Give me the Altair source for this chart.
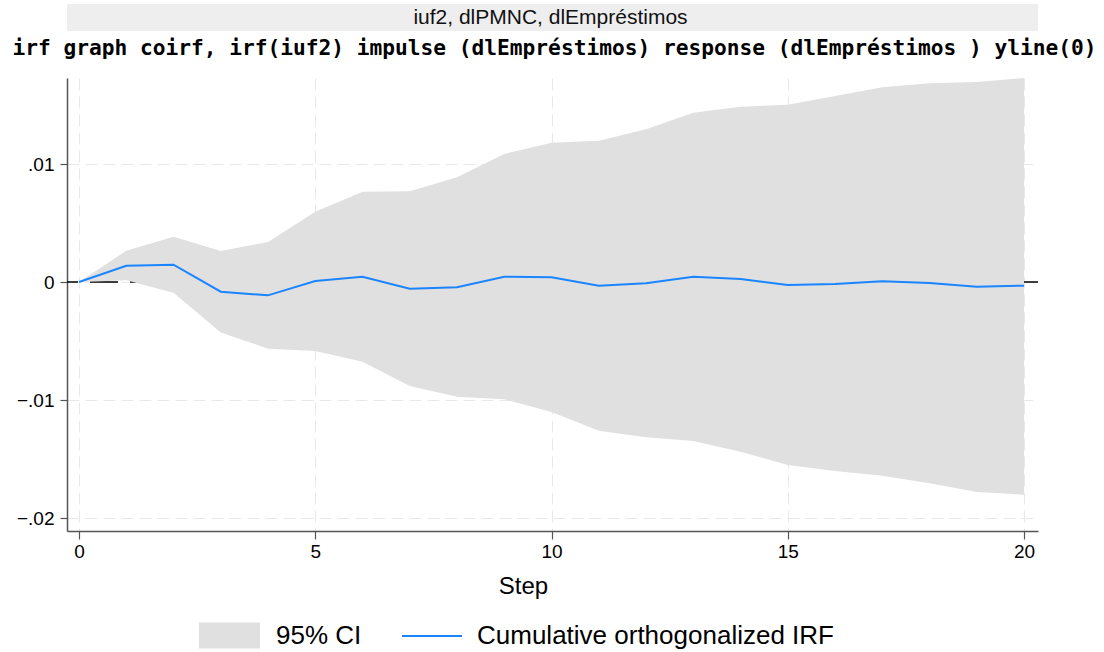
import altair as alt
import pandas as pd

# ---- data ----
steps = list(range(21))
irf = [0.0, 0.00138, 0.00147, -0.00082, -0.00113, 0.00008, 0.00045, -0.00057,
       -0.00045, 0.00045, 0.00040, -0.00031, -0.00011, 0.00045, 0.00025,
       -0.00025, -0.00017, 0.00006, -0.00008, -0.00040, -0.00031]
upper = [0.0, 0.00265, 0.00384, 0.00263, 0.00339, 0.00596, 0.00765, 0.00770,
         0.00887, 0.01085, 0.01180, 0.01197, 0.01294, 0.01435, 0.01486,
         0.01503, 0.01576, 0.01650, 0.01684, 0.01695, 0.01729]
lower = [0.0, 0.00015, -0.00090, -0.00427, -0.00565, -0.00585, -0.00675,
         -0.00881, -0.00972, -0.00994, -0.01102, -0.01260, -0.01316, -0.01347,
         -0.01438, -0.01551, -0.01602, -0.01641, -0.01706, -0.01780, -0.01802]
x_ticks = [0, 5, 10, 15, 20]
y_ticks = [-0.02, -0.01, 0, 0.01]
header_text = "iuf2, dlPMNC, dlEmpréstimos"
command_text = "irf graph coirf, irf(iuf2) impulse (dlEmpréstimos) response (dlEmpréstimos ) yline(0)"
ci_label = "95% CI"
irf_label = "Cumulative orthogonalized IRF"

df = pd.DataFrame({"step": steps, "irf": irf, "upper": upper, "lower": lower,
                   "ci": ci_label, "series": irf_label})
one = pd.DataFrame({"k": [0]})

W, H = 971, 453
FONT = "Liberation Sans"

xscale = alt.Scale(domain=[-0.254, 20.296], nice=False, zero=False)
yscale = alt.Scale(domain=[-0.0211, 0.01729], nice=False, zero=False)

xaxis = alt.Axis(values=x_ticks, format="d", title="Step", grid=True,
                 tickSize=8, labelPadding=3, titlePadding=13, titleX=456,
                 titleFontSize=24, titleFont=FONT, titleFontWeight="normal",
                 titleColor="black")
yaxis = alt.Axis(values=y_ticks, title=None, grid=True, tickSize=7, labelPadding=6,
                 labelExpr="datum.value == 0 ? '0' : replace(format(datum.value, '.2f'), '0.', '.')")

X = alt.X("step:Q", scale=xscale, axis=xaxis)

zero_line = alt.Chart(one).mark_rule(color="black", strokeWidth=1.5,
                                     strokeDash=[28, 12]).encode(y=alt.datum(0, scale=yscale))

band = alt.Chart(df).mark_area(opacity=1, interpolate="linear").encode(
    x=X,
    y=alt.Y("lower:Q", scale=yscale, axis=yaxis),
    y2="upper:Q",
    fill=alt.Fill("ci:N", scale=alt.Scale(domain=[ci_label], range=["#e0e0e0"]),
                  legend=alt.Legend(orient="none", legendX=132, legendY=527, title=None,
                                    symbolType="M-1,-0.426L1,-0.426L1,0.426L-1,0.426Z",
                                    symbolSize=3721, symbolStrokeWidth=0,
                                    labelOffset=16, labelFontSize=26, labelFont=FONT,
                                    labelColor="black", padding=0, offset=0,
                                    labelLimit=0, symbolOpacity=1)),
)

line = alt.Chart(df).mark_line(strokeWidth=2).encode(
    x=X,
    y=alt.Y("irf:Q", scale=yscale, axis=yaxis),
    stroke=alt.Stroke("series:N", scale=alt.Scale(domain=[irf_label], range=["#1a85ff"]),
                      legend=alt.Legend(orient="none", legendX=334, legendY=527, title=None,
                                        symbolType="stroke", symbolSize=3600,
                                        symbolStrokeWidth=2, labelOffset=14,
                                        labelFontSize=26, labelFont=FONT,
                                        labelColor="black", padding=0, offset=0,
                                        labelLimit=0)),
)

header_box = alt.Chart(one).mark_rect(color="#eeeeee").encode(
    x=alt.value(0), x2=alt.value(W), y=alt.value(-74), y2=alt.value(-47))
header = alt.Chart(one).mark_text(font=FONT, fontSize=21, color="#111111",
                                  baseline="middle", align="center").encode(
    x=alt.value(W / 2 - 2), y=alt.value(-60), text=alt.value(header_text))
command = alt.Chart(one).mark_text(font="DejaVu Sans Mono", fontWeight="bold", fontSize=21.2,
                                   color="black", baseline="middle", align="center").encode(
    x=alt.value(W / 2 + 2), y=alt.value(-29), text=alt.value(command_text))

chart = alt.layer(zero_line, band, line, header_box, header, command).properties(
    width=W, height=H,
    autosize=alt.AutoSizeParams(type="none"),
    padding={"left": 67, "top": 78, "right": 66, "bottom": 121},
    background="white",
).configure_view(stroke=None).configure_axis(
    labelFont=FONT, labelFontSize=19, labelColor="black",
    domainColor="#555555", tickColor="#555555", domainWidth=1.5, tickWidth=1.2,
    gridColor="#e8e8e8", gridDash=[12, 6], gridWidth=1,
)

chart.save("out.html", embed_options={"renderer": "svg", "actions": False})
